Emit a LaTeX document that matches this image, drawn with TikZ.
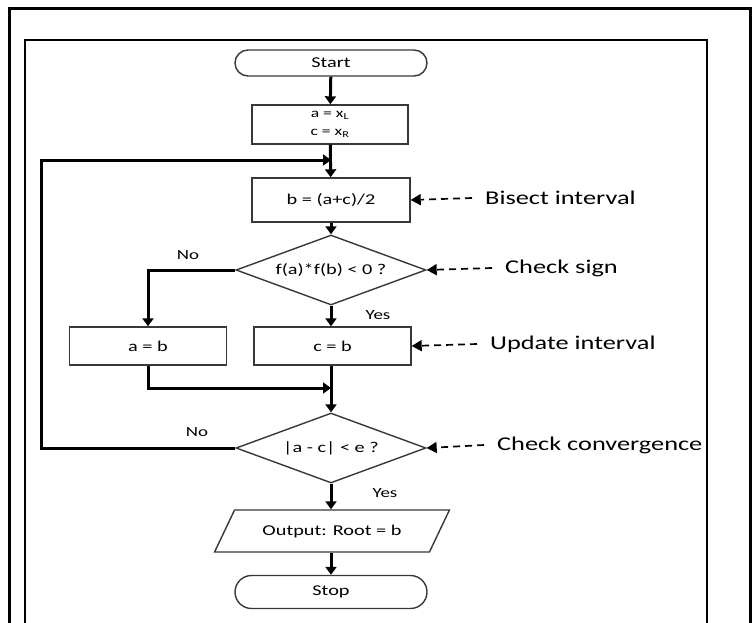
\documentclass[tikz,border=0pt]{standalone}
\usepackage{fontspec}
\setmainfont[FakeStretch=1.35]{Carlito}
\usetikzlibrary{arrows.meta,shapes.geometric,shapes.misc}
\tikzset{
  shp/.style={draw=black!78, line width=1.4pt, fill=white, inner sep=0pt, font=\fontsize{15}{17}\selectfont},
  box/.style={shp, rectangle, minimum width=157pt, minimum height=38pt},
  term/.style={shp, rounded rectangle, minimum width=192pt},
  dia/.style={shp, diamond, aspect=2.7, minimum width=190pt, minimum height=70pt},
  conn/.style={line width=3pt, -{Triangle[length=8pt,width=11pt]}},
  side/.style={anchor=west, inner xsep=13pt, inner ysep=0pt, font=\fontsize{19.5}{21}\selectfont},
  sidearrow/.style={line width=1.7pt, dash pattern=on 7pt off 5pt, -{Triangle[length=10pt,width=11pt]}},
  lbl/.style={font=\fontsize{14}{16}\selectfont, inner sep=0pt},
  frame/.style={line width=3pt},
  iframe/.style={line width=2pt}
}
\begin{document}
\begin{tikzpicture}[x=1pt,y=-1pt]
\useasboundingbox (0,0) rectangle (755,622);
% frames
\draw[frame] (9,630) -- (9,8) -- (750,8) -- (750,630);
\draw[iframe] (25,630) -- (25,40) -- (707,40) -- (707,630);

% nodes
\node[term, minimum height=26pt] (start) at (331,63) {Start};
\node[box, minimum width=156pt, minimum height=39pt, align=center, font=\fontsize{13}{18}\selectfont] (init) at (330,124.5) {a = x\textsubscript{L}\\c = x\textsubscript{R}};
\node[box, minimum width=158pt, minimum height=44pt] (bis) at (331,200) {b = (a+c)/2};
\node[dia] (d1) at (331,270) {f(a)*f(b) < 0 ?};
\node[box] (ab) at (148,346) {a = b};
\node[box] (cb) at (332.5,346) {c = b};
\node[dia] (d2) at (331,448) {|a - c| < e ?};
\node[shp, trapezium, trapezium left angle=42, trapezium right angle=138, trapezium stretches=true, minimum width=235pt, minimum height=42pt] (out) at (332,531) {Output: Root = b};
\node[term, minimum height=33pt] (stop) at (331,592) {Stop};

% junction coordinates
\coordinate (lp) at (331,160);
\coordinate (lc) at (41,160);
\coordinate (jn) at (331,388);

% connectors
\draw[conn] (start) -- (init);
\draw[conn] (init) -- (bis);
\draw[conn] (bis) -- (d1);
\draw[conn] (d1.west) -| (ab.north);
\draw[conn] (d1.south) -- (d1.south |- cb.north);
\draw[conn] (cb.south -| d2.north) -- (d2.north);
\draw[conn] (ab.south) |- (jn);
\draw[conn] (d2.west) -| (lc) -- (lp);
\draw[conn] (d2.south) -- (d2.south |- out.north);
\draw[conn] (out.south -| stop.north) -- (stop.north);

% labels
\node[lbl] (no1) at (188,255) {No};
\node[lbl] (yes1) at (378,315) {Yes};
\node[lbl] (no2) at (197,432) {No};
\node[lbl] (yes2) at (385,493) {Yes};

% side annotations
\node[side] (s1) at (472,198) {Bisect interval};
\node[side] (s2) at (492,268) {Check sign};
\node[side] (s3) at (477,344) {Update interval};
\node[side] (s4) at (484,445) {Check convergence};
\draw[sidearrow] (s1.west) -- (bis.east);
\draw[sidearrow] (s2.west) -- (d1.east);
\draw[sidearrow] (s3.west) -- (cb.east);
\draw[sidearrow] (s4.west) -- (d2.east);
\end{tikzpicture}
\end{document}
